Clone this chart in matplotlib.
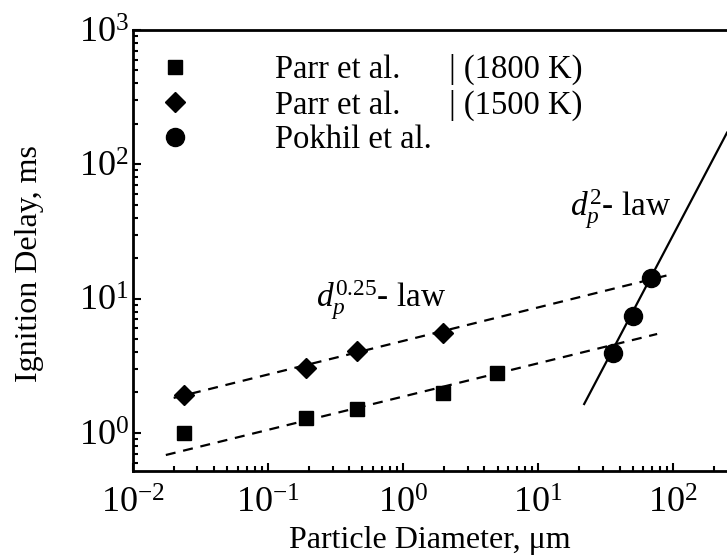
import numpy as np
import matplotlib
matplotlib.use('Agg')
import matplotlib.pyplot as plt
from matplotlib.lines import Line2D

plt.rcParams['font.family'] = ['Liberation Serif', 'DejaVu Serif']
plt.rcParams['mathtext.fontset'] = 'custom'
plt.rcParams['mathtext.rm'] = 'Liberation Serif'
plt.rcParams['mathtext.it'] = 'Liberation Serif:italic'

# Parr et al. (1800 K)
parr1800_d = [0.024, 0.19, 0.455, 1.98, 4.97]
parr1800_t = [1.0, 1.29, 1.51, 1.98, 2.79]

# Parr et al. (1500 K)
parr1500_d = [0.024, 0.19, 0.455, 1.98]
parr1500_t = [1.91, 3.04, 4.07, 5.54]

# Pokhil et al.
pokhil_d = [35.9, 50.6, 68.7]
pokhil_t = [3.94, 7.41, 14.2]

# fitted trend lines (end points)
law025_low_d = [0.0175, 76]
law025_low_t = [0.684, 5.45]
law025_high_d = [0.02, 98]
law025_high_t = [1.82, 15.2]
law2_d = [21.9, 250]
law2_t = [1.64, 172]

fig = plt.figure(figsize=(7.27, 5.6), dpi=100)
ax = fig.add_axes([133 / 727, 1 - 471 / 560, 594 / 727, 441 / 560])

dash = (0, (4.5, 3.5))
ax.plot(law025_low_d, law025_low_t, color='black', lw=1.6, linestyle=dash)
ax.plot(law025_high_d, law025_high_t, color='black', lw=1.6, linestyle=dash)
ax.plot(law2_d, law2_t, color='black', lw=1.6)

ax.plot(parr1800_d, parr1800_t, 's', color='black', ms=10, zorder=3)
ax.plot(parr1500_d, parr1500_t, 'D', color='black', ms=10, zorder=3)
ax.plot(pokhil_d, pokhil_t, 'o', color='black', ms=13, zorder=3)

ax.set_xscale('log')
ax.set_yscale('log')
ax.set_xlim(0.01, 250)
ax.set_ylim(0.52, 1000)

ax.text(0.225, 8.65, r'$d_p^{0.25}$- law', fontsize=24, ha='left', va='baseline')
ax.text(17.3, 41.0, r'$d_p^{2}$- law', fontsize=24, ha='left', va='baseline')

handles = [
    Line2D([], [], marker='s', color='black', ls='none', ms=10),
    Line2D([], [], marker='D', color='black', ls='none', ms=10),
    Line2D([], [], marker='o', color='black', ls='none', ms=13),
]
labels = ['Parr et al.      | (1800 K)', 'Parr et al.      | (1500 K)', 'Pokhil et al.']
ax.legend(handles, labels, loc='upper left', bbox_to_anchor=(0.0433, 0.945),
          frameon=False, fontsize=23.5, handlelength=1.0, handletextpad=2.57,
          labelspacing=0.12, borderpad=0, borderaxespad=0)

ax.set_xlabel('Particle Diameter, μm', fontsize=23)
ax.set_ylabel('Ignition Delay, ms', fontsize=23)
ax.xaxis.set_label_coords(0.5, -0.125)
ax.yaxis.set_label_coords(-0.15, 0.47)

ax.spines['right'].set_visible(False)
for s in ['left', 'bottom', 'top']:
    ax.spines[s].set_linewidth(2.0)
ax.tick_params(which='both', direction='in', top=False, right=False,
               labelsize=26, width=1.5)
ax.tick_params(which='major', length=6)
ax.tick_params(which='minor', length=3.5)
ax.tick_params(axis='x', which='major', pad=12)
ax.tick_params(axis='y', which='major', pad=3)

fig.savefig('out.png', dpi=100)
